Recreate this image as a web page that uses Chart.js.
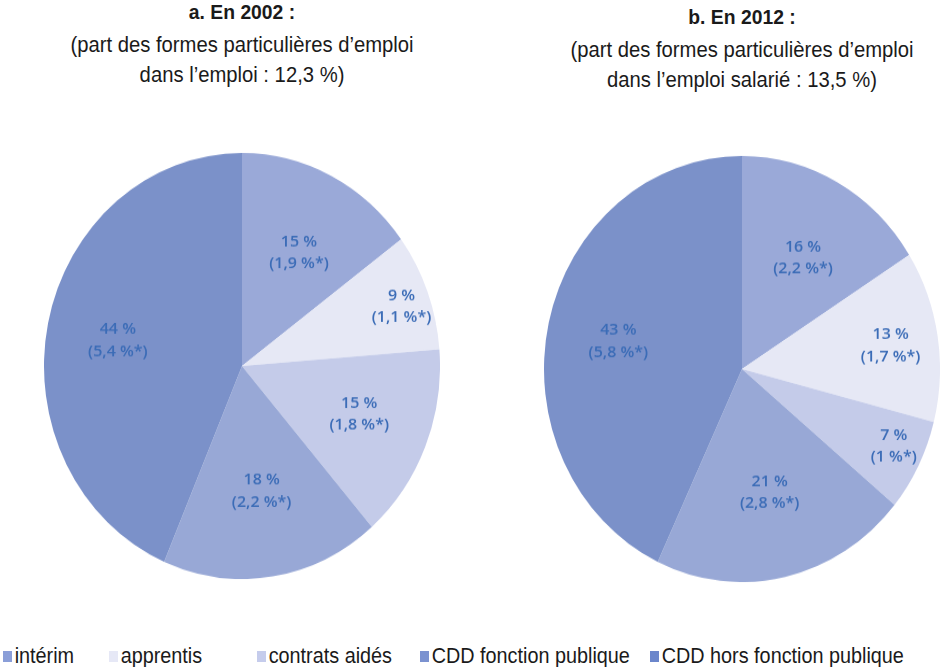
<!DOCTYPE html>
<html>
<head>
<meta charset="utf-8">
<script src="https://cdn.jsdelivr.net/npm/chart.js@4"></script>
<style>
  html, body { margin: 0; padding: 0; background: #fff; }
  body { width: 942px; height: 667px; position: relative; overflow: hidden;
         font-family: 'Liberation Sans', Arial, sans-serif; color: #1a1a1a; }
  .title { position: absolute; width: 470px; text-align: center; transform: scaleX(0.92); transform-origin: 50% 0; }
  .title .h { font-weight: bold; font-size: 21px; }
  .title .s { font-size: 22px; line-height: 30px; }
  .pie { position: absolute; width: 396px; height: 396px; transform: scaleY(1.076); transform-origin: 50% 50%; }
  #legend { position: absolute; left: 0; top: 643px; font-size: 22px; white-space: nowrap; }
  #legend span.item { position: absolute; top: 0; transform: scaleX(0.9); transform-origin: 0 0; }
  #legend i { display: inline-block; width: 10px; height: 11px; margin-right: 3px; vertical-align: 1px; }
</style>
</head>
<body>
<div class="title" style="left:7px; top:0px;">
  <div class="h">a. En 2002 :</div>
  <div class="s" style="margin-top:6px">(part des formes particulières d’emploi<br>dans l’emploi : 12,3 %)</div>
</div>
<div class="title" style="left:507px; top:5px;">
  <div class="h">b. En 2012 :</div>
  <div class="s" style="margin-top:6px">(part des formes particulières d’emploi<br>dans l’emploi salarié : 13,5 %)</div>
</div>
<div class="pie" style="left:44px; top:168px;"><canvas id="pie2002" width="396" height="396"></canvas></div>
<div class="pie" style="left:544px; top:171px;"><canvas id="pie2012" width="396" height="396"></canvas></div>
<div id="legend"></div>
<script>
// categories and values
const categories = ['intérim', 'apprentis', 'contrats aidés', 'CDD fonction publique', 'CDD hors fonction publique'];
const share2002 = [15, 9, 15, 18, 44];
const shareOfJobs2002 = ['1,9', '1,1', '1,8', '2,2', '5,4'];
const share2012 = [16, 13, 7, 21, 43];
const shareOfJobs2012 = ['2,2', '1,7', '1', '2,8', '5,8'];

const sliceColors = ['#9aa9d8', '#e6e8f5', '#c4cbe9', '#98a8d6', '#7b91c9'];
const legendColors = ['#8a9ed8', '#e6e8f6', '#c5ccec', '#7b92d0', '#6b86cb'];
const legendX = [3, 109, 257, 420, 650];

const STRETCH = 1.076; // pies are slightly taller than wide

// draws the "xx %" / "(y %*)" labels inside each slice, undoing the vertical stretch
const sliceLabels = {
    id: 'sliceLabels',
    afterDatasetsDraw(chart) {
        const ctx = chart.ctx;
        const ds = chart.data.datasets[0];
        const total = ds.data.reduce((a, b) => a + b, 0);
        chart.getDatasetMeta(0).data.forEach((arc, i) => {
            const mid = (arc.startAngle + arc.endAngle) / 2;
            const frac = ds.data[i] / total;
            const r = arc.outerRadius * (frac < 0.1 ? 0.86 : frac < 0.14 ? 0.76 : 0.64);
            const x = arc.x + Math.cos(mid) * r;
            const y = arc.y + Math.sin(mid) * r / STRETCH;
            ctx.save();
            ctx.translate(x, y);
            ctx.scale(1, 1 / STRETCH);
            ctx.fillStyle = '#3b6cb7';
            ctx.font = '600 16px "Open Sans", sans-serif';
            ctx.textAlign = 'center';
            ctx.textBaseline = 'middle';
            ctx.fillText(ds.data[i] + ' %', 0, -11);
            ctx.fillText('(' + ds.extra[i] + ' %*)', 0, 11);
            ctx.restore();
        });
    }
};

function makePie(id, values, extra) {
    return new Chart(document.getElementById(id), {
        type: 'pie',
        data: {
            labels: categories,
            datasets: [{
                data: values,
                extra: extra,
                backgroundColor: sliceColors,
                borderWidth: 0
            }]
        },
        options: {
            responsive: false,
            animation: false,
            layout: { padding: 0 },
            plugins: {
                legend: { display: false },
                tooltip: { enabled: false }
            }
        },
        plugins: [sliceLabels]
    });
}

makePie('pie2002', share2002, shareOfJobs2002);
makePie('pie2012', share2012, shareOfJobs2012);

const legend = document.getElementById('legend');
categories.forEach((c, i) => {
    const s = document.createElement('span');
    s.className = 'item';
    s.style.left = legendX[i] + 'px';
    s.innerHTML = '<i style="background:' + legendColors[i] + '"></i>' + c;
    legend.appendChild(s);
});
</script>
</body>
</html>
